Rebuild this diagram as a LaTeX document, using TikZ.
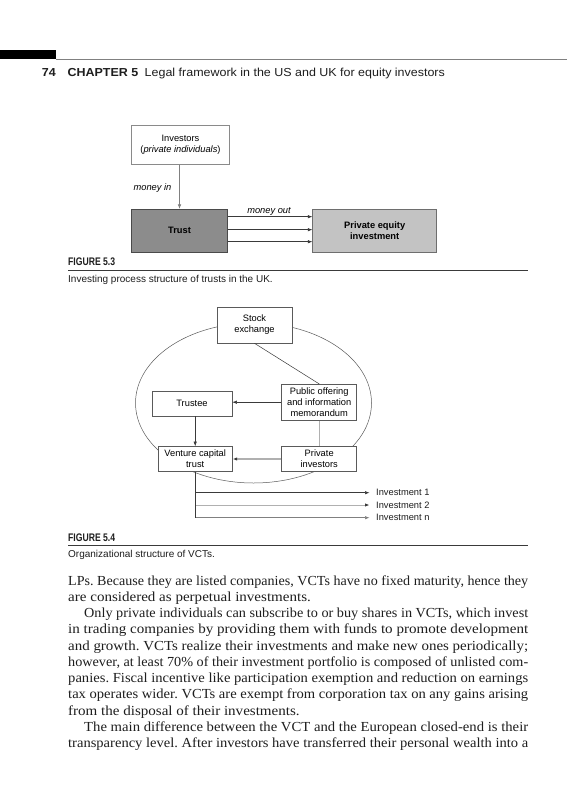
\documentclass[tikz,border=0pt]{standalone}
\usepackage{fontspec}
\setmainfont{Liberation Serif}
\setsansfont{Liberation Sans}
\usepackage{graphicx}
\usetikzlibrary{arrows.meta,shapes.geometric}
\definecolor{boxline}{HTML}{5A5A5A}
\definecolor{invline}{HTML}{8A8A8A}
\definecolor{trustfill}{HTML}{8C8C8C}
\definecolor{trustline}{HTML}{4A4A4A}
\definecolor{pefill}{HTML}{C3C3C3}
\definecolor{peline}{HTML}{6E6E6E}
\definecolor{darkline}{HTML}{3A3A3A}
\definecolor{lightline}{HTML}{B0B0B0}
\definecolor{midline}{HTML}{808080}
\definecolor{inkc}{HTML}{1E1E1E}
\newcommand\dgfont{\sffamily\fontsize{9.3}{11}\selectfont}
\newcommand\hdfont{\sffamily\fontsize{11.6}{14}\selectfont}
\newcommand\capfont{\sffamily\fontsize{10}{12}\selectfont}
\newcommand\bdfont{\rmfamily\frenchspacing\fontsize{13.8}{16}\selectfont}
\newcommand\fullline[1]{\resizebox{460pt}{\height}{\bdfont #1}}
\newcommand\indline[1]{\resizebox{444pt}{\height}{\bdfont #1}}
\newcommand\lastline[1]{\scalebox{1.09}[1]{\bdfont #1}}
\begin{document}
\begin{tikzpicture}[x=1pt,y=-1pt,
 box/.style={draw=boxline,line width=0.6pt,fill=white,inner sep=0pt,align=center,font=\dgfont},
 arr/.style={-{Latex[length=4.5pt,width=3.4pt]},line width=0.55pt,draw=darkline},
 lbl/.style={inner sep=0pt,font=\dgfont\itshape},
 txt/.style={anchor=base west,inner sep=0pt,text=inkc},
 bodyline/.style={txt}]
\fill[white] (0,0) rectangle (567,800);
\useasboundingbox (0,0) rectangle (567,800);

% ---- running head
\fill[black] (0,50.5) rectangle (56,59.5);
\coordinate (rl) at (56,59.5);
\coordinate (rr) at (567,59.5);
\draw[midline,line width=1pt] (rl) -- (rr);
\node[txt] (hdr) at (41.7,76.4) {\resizebox{403pt}{\height}{\hdfont\bfseries 74\hspace{11pt}CHAPTER 5\hspace{6pt}\mdseries Legal framework in the US and UK for equity investors}};

% ---- Figure 5.3
\node[box,draw=invline,minimum width=97.6pt,minimum height=39.3pt] (inv) at (180.5,144.7) {Investors\\(\textit{private individuals})};
\node[box,draw=trustline,fill=trustfill,font=\dgfont\bfseries,minimum width=95.6pt,minimum height=42.7pt] (trust) at (179.5,230.6) {Trust};
\node[box,draw=peline,fill=pefill,font=\dgfont\bfseries,minimum width=124pt,minimum height=42.7pt] (pe) at (374.7,230.6) {Private equity\\investment};
\draw[arr,draw=midline] (trust.north |- inv.south) -- (trust.north);
\coordinate (ya) at (0,216.7);
\coordinate (yb) at (0,229.7);
\coordinate (yc) at (0,241.7);
\draw[arr] (trust.east |- ya) -- (pe.west |- ya);
\draw[arr] (trust.east |- yb) -- (pe.west |- yb);
\draw[arr] (trust.east |- yc) -- (pe.west |- yc);
\node[lbl] (min) at (152.5,188) {money in};
\node[lbl] (mout) at (269,211.5) {money out};

\node[txt] (f53) at (68,265.7) {\resizebox{47pt}{\height}{\sffamily\bfseries\fontsize{11}{13}\selectfont FIGURE 5.3}};
\coordinate (c53l) at (68,270);
\coordinate (c53r) at (528,270);
\draw[darkline,line width=0.8pt] (c53l) -- (c53r);
\node[txt,font=\capfont] (cap53) at (68,282.5) {Investing process structure of trusts in the UK.};

% ---- Figure 5.4
\node[draw=boxline,line width=0.5pt,ellipse,minimum width=236pt,minimum height=160pt,inner sep=0pt] (ring) at (253.5,403) {};
\node[box,minimum width=75pt,minimum height=36pt] (se) at (254.5,325) {Stock\\exchange};
\node[box,minimum width=75pt,minimum height=36pt] (po) at (319.2,402.2) {Public offering\\and information\\memorandum};
\node[box,minimum width=80pt,minimum height=25pt] (tee) at (192,403.5) {Trustee};
\node[box,minimum width=74.3pt,minimum height=25pt] (vct) at (195.2,459) {Venture capital\\trust};
\node[box,minimum width=75pt,minimum height=25pt] (pi) at (319.2,459) {Private\\investors};

\draw[darkline,line width=0.5pt] (se.south) -- (po.north);
\draw[lightline,line width=1pt] (po.south) -- (pi.north);
\draw[arr] (po.west) -- (po.west -| tee.east);
\draw[draw=lightline,line width=1.2pt,-{Latex[length=4.5pt,width=3.4pt,color=darkline]}] (pi.west) -- (pi.west -| vct.east);
\draw[arr] (tee.south -| vct.north) -- (vct.north);

\node[txt,font=\dgfont,anchor=west] (i1) at (376,492.7) {Investment 1};
\node[txt,font=\dgfont,anchor=west] (i2) at (376,505) {Investment 2};
\node[txt,font=\dgfont,anchor=west] (in) at (376,517.7) {Investment n};
\draw[arr,draw=lightline,line width=0.9pt,-{Latex[length=4.5pt,width=3.4pt,color=darkline]},shorten >=6.5pt] (vct.south |- i2.west) -- (i2.west);
\draw[arr,draw=darkline,shorten >=6.5pt] (vct.south |- i1.west) -- (i1.west);
\draw[arr,draw=midline,shorten >=6.5pt] (vct.south |- in.west) -- (in.west);
\draw[darkline,line width=0.55pt] (vct.south) -- (vct.south |- in.west);

\node[txt] (f54) at (68,541) {\resizebox{47pt}{\height}{\sffamily\bfseries\fontsize{11}{13}\selectfont FIGURE 5.4}};
\coordinate (c54l) at (68,545.5);
\coordinate (c54r) at (528,545.5);
\draw[darkline,line width=0.8pt] (c54l) -- (c54r);
\node[txt,font=\capfont] (cap54) at (68,557.5) {Organizational structure of VCTs.};

% ---- body text
\node[bodyline] (b1) at (68,585) {\fullline{LPs. Because they are listed companies, VCTs have no fixed maturity, hence they}};
\node[bodyline] (b2) at (68,601.25) {\lastline{are considered as perpetual investments.}};
\node[bodyline] (b3) at (84,617.5) {\indline{Only private individuals can subscribe to or buy shares in VCTs, which invest}};
\node[bodyline] (b4) at (68,633.75) {\fullline{in trading companies by providing them with funds to promote development}};
\node[bodyline] (b5) at (68,650) {\fullline{and growth. VCTs realize their investments and make new ones periodically;}};
\node[bodyline] (b6) at (68,666.25) {\fullline{however, at least 70\% of their investment portfolio is composed of unlisted com-}};
\node[bodyline] (b7) at (68,682.5) {\fullline{panies. Fiscal incentive like participation exemption and reduction on earnings}};
\node[bodyline] (b8) at (68,698.75) {\fullline{tax operates wider. VCTs are exempt from corporation tax on any gains arising}};
\node[bodyline] (b9) at (68,715) {\lastline{from the disposal of their investments.}};
\node[bodyline] (b10) at (84,731.25) {\indline{The main difference between the VCT and the European closed-end is their}};
\node[bodyline] (b11) at (68,747.5) {\fullline{transparency level. After investors have transferred their personal wealth into a}};
\end{tikzpicture}
\end{document}
